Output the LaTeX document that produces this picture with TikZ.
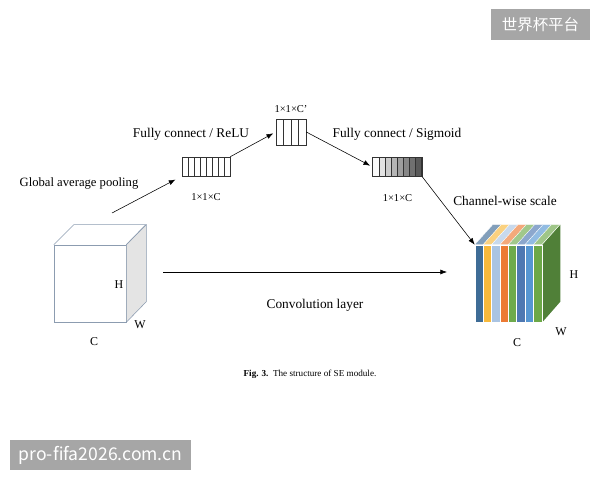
\documentclass[tikz,border=0pt]{standalone}
\usepackage{fontspec}
\setmainfont{Liberation Serif}
\newfontfamily\cjk{Noto Sans CJK SC}
\usepackage{xcolor}
\usepackage{tikz}
\usetikzlibrary{arrows.meta, positioning, calc}

\definecolor{cubeline}{RGB}{140,156,176}
\definecolor{sideface}{RGB}{228,228,228}
\definecolor{chA}{RGB}{62,108,150}
\definecolor{chB}{RGB}{247,185,60}
\definecolor{chC}{RGB}{170,196,226}
\definecolor{chD}{RGB}{236,122,52}
\definecolor{chE}{RGB}{110,170,76}
\definecolor{chF}{RGB}{78,120,178}
\definecolor{chG}{RGB}{86,150,210}
\definecolor{chH}{RGB}{108,168,72}
\definecolor{chside}{RGB}{80,128,56}
\definecolor{wmark}{RGB}{166,166,166}

\begin{document}
\begin{tikzpicture}[
  vec/.style={draw=black!80, thin, minimum height=0.475cm, inner sep=0},
  lbl/.style={font=\fontsize{9.5}{11}\selectfont, inner sep=1pt},
  dim/.style={font=\fontsize{7.5}{9}\selectfont, inner sep=1pt},
  arrow/.style={-Latex, thin},
  wm/.style={fill=wmark, text=white, font=\cjk\fontsize{11}{13}\selectfont, inner sep=0},
  node distance=0.3cm
]
\useasboundingbox (0,0) rectangle (15,12);

% input feature map
\node[draw=cubeline, minimum width=1.8cm, minimum height=1.925cm, inner sep=0] (cubeL) at (2.25,4.9125) {};
\draw[cubeline, fill=sideface] (cubeL.north east) -- ++(0.5,0.5) -- ++(0,-1.925) -- (cubeL.south east) -- cycle;
\draw[cubeline] (cubeL.north west) -- ++(0.5,0.5) -- ++(1.8,0) -- (cubeL.north east);
\node[dim, font=\fontsize{8.5}{10}\selectfont] (hL) at (2.975,4.875) {H};
\node[dim, font=\fontsize{8.5}{10}\selectfont] (wL) at (3.5,3.875) {W};
\node[dim, font=\fontsize{8.5}{10}\selectfont] (cL) at (2.35,3.45) {C};

% scaled feature map
\node[minimum width=1.675cm, minimum height=1.925cm, inner sep=0] (cubeR) at (12.7125,4.9125) {};
\fill[chside] (cubeR.north east) -- ++(0.45,0.5) -- ++(0,-1.925) -- (cubeR.south east) -- cycle;
\foreach \c [count=\i from 0] in {chA,chB,chC,chD,chE,chF,chG,chH} {
  \draw[white, line width=0.2pt, fill=\c] ($(cubeR.south west)+(\i*0.209375,0)$) rectangle ++(0.209375,1.925);
  \draw[white, line width=0.2pt, fill=\c!65!white] ($(cubeR.north west)+(\i*0.209375,0)$) -- ++(0.45,0.5) -- ++(0.209375,0) -- ++(-0.45,-0.5) -- cycle;
}
\node[dim, font=\fontsize{8.5}{10}\selectfont] (hR) at (14.35,5.125) {H};
\node[dim, font=\fontsize{8.5}{10}\selectfont] (wR) at (14.025,3.7) {W};
\node[dim, font=\fontsize{8.5}{10}\selectfont] (cR) at (12.925,3.425) {C};

% squeeze and excitation vectors
\node[vec, minimum width=1.2cm] (vec1) at (5.15,7.8375) {};
\foreach \i in {1,...,7}
  \draw[black!80, thin] ($(vec1.south west)!\i/8!(vec1.south east)$) -- ($(vec1.north west)!\i/8!(vec1.north east)$);
\node[vec, minimum width=0.75cm, minimum height=0.65cm] (vec2) at (7.275,8.7) {};
\foreach \i in {1,...,3}
  \draw[black!80, thin] ($(vec2.south west)!\i/4!(vec2.south east)$) -- ($(vec2.north west)!\i/4!(vec2.north east)$);
\node[vec, minimum width=1.225cm] (vec3) at (9.9375,7.825) {};
\foreach \i in {0,...,7} {
  \pgfmathsetmacro\shade{2+9*\i}
  \draw[black!80, thin, fill=black!\shade] ($(vec3.south west)+(\i*0.153125,0)$) rectangle ++(0.153125,0.475);
}

\node[dim, below=0.4cm of vec1] (dim1) {1×1×C};
\node[dim, above=0.1cm of vec2] (dim2) {1×1×C’};
\node[dim, below=0.4cm of vec3] (dim3) {1×1×C};

% labels
\node[lbl, font=\fontsize{9}{11}\selectfont] (pool) at (1.975,7.425) {Global average pooling};
\node[lbl] (relu) at (4.775,8.65) {Fully connect / ReLU};
\node[lbl] (sigm) at (9.925,8.65) {Fully connect / Sigmoid};
\node[lbl] (scale) at (12.625,6.975) {Channel-wise scale};
\node[lbl] (conv) at (7.875,4.375) {Convolution layer};

% connectors
\coordinate (poolS) at (2.8,6.675);
\coordinate (convS) at (4.075,5.2);
\coordinate (convE) at (11.175,5.2);
\draw[arrow, shorten >=5pt] (poolS) -- (vec1.south west);
\draw[arrow, shorten >=2pt] (vec1.north east) -- (vec2.west);
\draw[arrow, shorten >=2pt] (vec2.east) -- (vec3.west);
\draw[arrow] (vec3.south east) -- (cubeR.north west);
\draw[arrow] (convS) -- (convE);

\node[font=\fontsize{6.5}{8}\selectfont] (caption) at (7.75,2.65) {\textbf{Fig. 3.}\ \ The structure of SE module.};

% watermarks
\node[wm, minimum width=2.475cm, minimum height=0.775cm] (wmTop) at (13.5125,11.3875) {世界杯平台};
\node[wm, font=\cjk\fontsize{12.5}{14}\selectfont, minimum width=4.525cm, minimum height=0.75cm] (wmBottom) at (2.5125,0.625) {pro-fifa2026.com.cn};
\end{tikzpicture}
\end{document}
